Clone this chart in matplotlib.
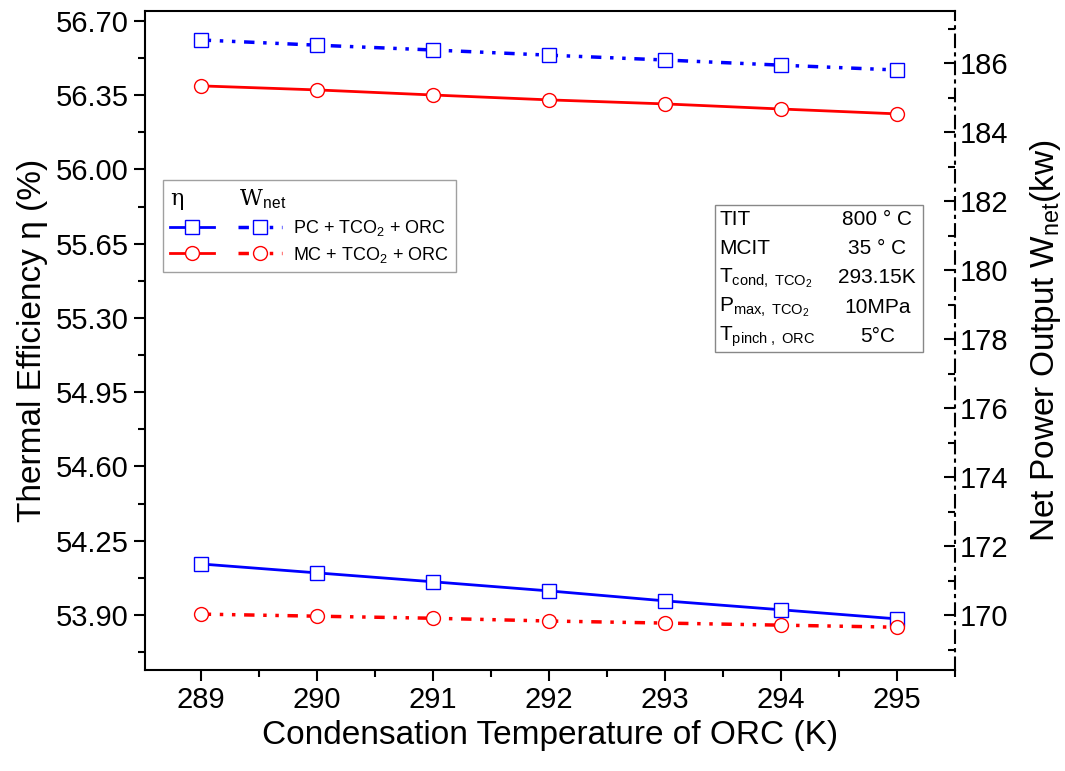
import matplotlib.pyplot as plt
from matplotlib.legend_handler import HandlerTuple
from matplotlib.ticker import MultipleLocator, AutoMinorLocator
from matplotlib.patches import Rectangle

plt.rcParams['font.family'] = ['Liberation Sans', 'DejaVu Sans']
plt.rcParams['mathtext.fontset'] = 'custom'
plt.rcParams['mathtext.rm'] = 'Liberation Sans'
plt.rcParams['mathtext.it'] = 'Liberation Sans:italic'

# data
temps = [289, 290, 291, 292, 293, 294, 295]
eta_pc = [54.140, 54.098, 54.056, 54.013, 53.966, 53.924, 53.881]
eta_mc = [56.394, 56.375, 56.351, 56.328, 56.309, 56.285, 56.262]
wnet_pc = [186.67, 186.52, 186.38, 186.23, 186.09, 185.94, 185.80]
wnet_mc = [170.03, 169.97, 169.91, 169.83, 169.77, 169.71, 169.65]

info_keys = ['TIT', 'MCIT', r'T$_{\rm cond,\ TCO_2}$', r'P$_{\rm max,\ TCO_2}$', r'T$_{\rm pinch\ ,\ ORC}$']
info_vals = ['800 ° C', '35 ° C', '293.15K', '10MPa', '5°C']

blue = '#0000ff'
red = '#ff0000'

fig = plt.figure(figsize=(10.65, 7.71), dpi=100)
ax = fig.add_axes([145 / 1065, 101 / 771, 810 / 1065, 659 / 771])
ax2 = ax.twinx()

mk = dict(markersize=10, markerfacecolor='white', markeredgewidth=1.0)
l1, = ax.plot(temps, eta_pc, '-', color=blue, lw=2, marker='s', **mk)
l2, = ax.plot(temps, eta_mc, '-', color=red, lw=2, marker='o', **mk)
dd = (0, (3, 2.5, 1, 2.5, 1, 2.5))
l3, = ax2.plot(temps, wnet_pc, color=blue, lw=2.5, ls=dd, marker='s', **mk)
l4, = ax2.plot(temps, wnet_mc, color=red, lw=2.5, ls=dd, marker='o', **mk)

ax.set_xlim(288.52, 295.5)
ax.set_ylim(53.64, 56.747)
ax2.set_ylim(168.41, 187.51)

ax.set_xticks(temps)
ax.xaxis.set_minor_locator(MultipleLocator(0.5))
ax.yaxis.set_major_locator(MultipleLocator(0.35))
ax.yaxis.set_minor_locator(AutoMinorLocator(2))
ax.yaxis.set_major_formatter(plt.FormatStrFormatter('%.2f'))
ax2.yaxis.set_major_locator(MultipleLocator(2))
ax2.yaxis.set_minor_locator(AutoMinorLocator(2))

ax.tick_params(which='major', direction='out', length=8, width=1.5, labelsize=21)
ax.tick_params(which='minor', direction='out', length=5, width=1.5)
ax2.tick_params(which='major', direction='in', length=8, width=1.5, labelsize=21)
ax2.tick_params(which='minor', direction='in', length=5, width=1.5)

for s in ['left', 'bottom', 'top']:
    ax.spines[s].set_linewidth(1.5)
for s in ['left', 'bottom', 'top']:
    ax2.spines[s].set_visible(False)
ax.spines['right'].set_visible(False)
ax2.spines['right'].set_linewidth(1.5)
ax2.spines['right'].set_linestyle((0, (6, 3, 1, 3)))

ax.set_xlabel('Condensation Temperature of ORC (K)', fontsize=24)
ax.set_ylabel(r'Thermal Efficiency η (%)', fontsize=24, labelpad=6)
ax2.set_ylabel(r'Net Power Output W$_{\rm net}$(kw)', fontsize=24, labelpad=14)

# legend: eta (solid) and Wnet (dash-dot) side by side
leg = ax.legend([(l1, l3), (l2, l4)], ['PC + TCO$_2$ + ORC', 'MC + TCO$_2$ + ORC'],
                handler_map={tuple: HandlerTuple(ndivide=None, pad=1.3)},
                handlelength=6.2, loc='upper left', bbox_to_anchor=(0.022, 0.744),
                borderaxespad=0, fontsize=13, frameon=True, fancybox=False,
                edgecolor='#888888', title='η        W$_{\\rm net}$',
                title_fontproperties={'family': 'serif', 'size': 16},
                alignment='left', borderpad=0.4, handletextpad=0.6, labelspacing=0.35)
leg.get_frame().set_linewidth(1.0)

# info box
x0, y0, w, h = 0.704, 0.483, 0.256, 0.223
ax.add_patch(Rectangle((x0, y0), w, h, transform=ax.transAxes, fill=False,
                       edgecolor='#888888', lw=1.0, zorder=5))
for i, (k, v) in enumerate(zip(info_keys, info_vals)):
    yy = y0 + h - 0.022 - i * 0.0445
    ax.text(x0 + 0.005, yy, k, transform=ax.transAxes, fontsize=15, va='center', ha='left')
    ax.text(x0 + 0.200, yy, v, transform=ax.transAxes, fontsize=15, va='center', ha='center')

fig.savefig('out.png', dpi=100)
